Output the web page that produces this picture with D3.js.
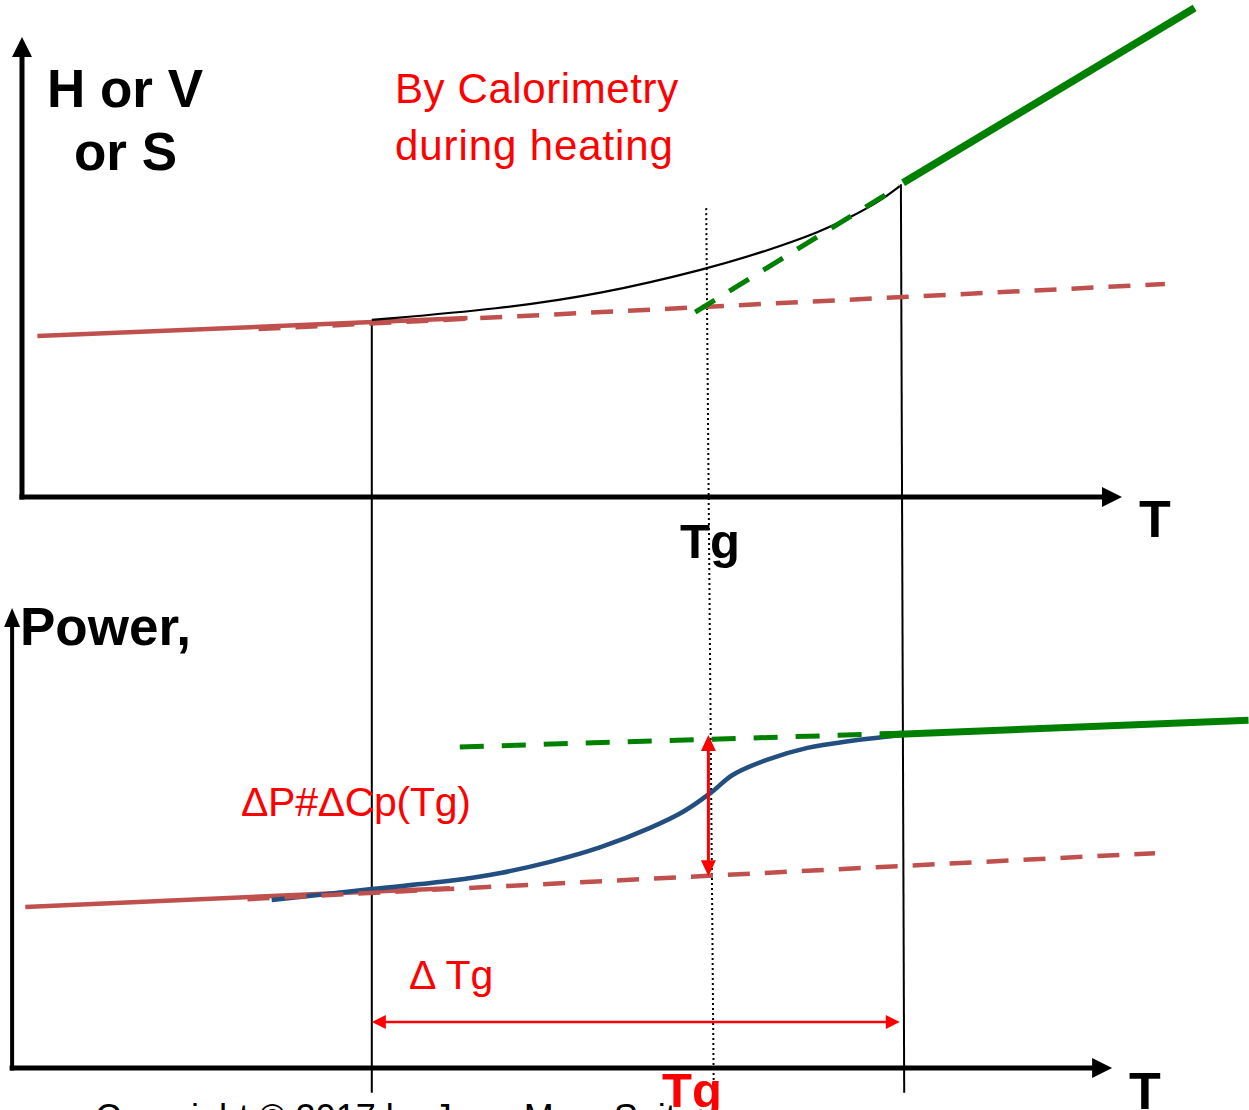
<!DOCTYPE html>
<html>
<head>
<meta charset="utf-8">
<script src="https://cdn.jsdelivr.net/npm/d3@7"></script>
<style>
  html, body { margin: 0; padding: 0; background: #fff; }
  svg { display: block; }
</style>
</head>
<body>
<script>
// Glass transition schematic: H/V/S vs T (top) and DSC power vs T (bottom).
// Temperature runs on an arbitrary 0-100 scale; ordinates on arbitrary 0-100 scales.

// ---- top panel: H or V or S ----
const topGlassSolid   = [[1.4, 35.0], [40.5, 38.9]];
const topGlassDashed  = [[21.5, 36.5], [103.9, 46.3]];
const topCurve        = [[31.8, 38.5], [43.5, 40.9], [52.6, 44.1], [62.3, 49.6], [67.7, 53.5],
                         [72.6, 57.7], [75.3, 60.8], [78.0, 64.3], [79.8, 67.6]];
const topLiquidDashed = [[61.2, 40.2], [79.8, 67.6]];
const topLiquidSolid  = [[80.1, 68.3], [106.6, 106.3]];

// ---- bottom panel: Power ----
const botGlassSolid   = [[0.3, 35.0], [38.9, 39.1]];
const botGlassDashed  = [[20.5, 36.7], [103.0, 46.7]];
const botCurve        = [[22.7, 36.5], [31.8, 38.9], [38.9, 40.7], [43.5, 42.4], [48.0, 44.8],
                         [52.6, 48.0], [57.1, 52.2], [60.1, 55.7], [62.6, 59.8], [64.6, 63.7],
                         [67.7, 67.0], [71.4, 69.6], [75.3, 71.1], [81.0, 72.6]];
const botLiquidDashed = [[39.8, 69.8], [80.7, 72.8]];
const botLiquidSolid  = [[78.0, 72.4], [111.5, 75.6]];

// ΔP at Tg (vertical) and ΔTg (horizontal)
const deltaP  = { T: 62.4, from: 41.7, to: 72.4 };
const deltaTg = { y: 10.0, from: 31.8, to: 79.8 };

// vertical guides: [T at top, top-panel value] -> [T at bottom, bottom-panel value]
const guides = [
  { t0: 31.8, v0: 38.5, t1: 31.8, v1: -5.4, dotted: false },
  { t0: 79.9, v0: 68.0, t1: 80.2, v1: -5.4, dotted: false },
  { t0: 62.2, v0: 62.8, t1: 62.9, v1: -9.2, dotted: true }
];

// axis extents along T
const topAxisT = [0, 100];
const botAxisT = [-0.9, 99.1];

// texts
const topYLabel = ["H or V", "or S"];
const methodLabel = ["By Calorimetry", "during heating"];
const botYLabel = "Power,";
const xLabel = "T";
const tgLabel = "Tg";
const deltaPLabel = "ΔP#ΔCp(Tg)";
const deltaTgLabel = "Δ Tg";
const copyright = "Copyright © 2017 by Jean-Marc Saiter";

const W = 1249, H = 1110;
const svg = d3.select("body").append("svg").attr("width", W).attr("height", H);

const x = d3.scaleLinear().domain([0, 100]).range([22, 1122]);
const yTop = d3.scaleLinear().domain([0, 100]).range([497, 37]);
const yBot = d3.scaleLinear().domain([0, 100]).range([1068, 608]);

const lineTop = d3.line().x(d => x(d[0])).y(d => yTop(d[1]));
const lineBot = d3.line().x(d => x(d[0])).y(d => yBot(d[1]));
const curveTop = d3.line().curve(d3.curveBasis).x(d => x(d[0])).y(d => yTop(d[1]));
const curveBot = d3.line().curve(d3.curveCatmullRom).x(d => x(d[0])).y(d => yBot(d[1]));

const BROWN = "#c0504d", GREEN = "#008000", BLUE = "#234e80", RED = "#ff0000";
const font = "'Liberation Sans', Arial, sans-serif";

// copyright line (partly below the page edge)
svg.append("text").attr("x", 95).attr("y", 1130)
  .attr("font-family", font).attr("font-size", 36).attr("fill", "#000")
  .text(copyright);

// vertical guides
guides.forEach(g => {
  svg.append("line")
    .attr("x1", x(g.t0)).attr("y1", yTop(g.v0))
    .attr("x2", x(g.t1)).attr("y2", yBot(g.v1))
    .attr("stroke", "#000")
    .attr("stroke-width", 2)
    .attr("stroke-dasharray", g.dotted ? "2,3" : null);
});

// axes with arrowheads
function drawAxes(yScale, tRange, yHead) {
  const x0 = x(tRange[0]), x1 = x(tRange[1]);
  const y0 = yScale(0), y1 = yScale(100);
  const g = svg.append("g");
  g.append("line").attr("x1", x0).attr("y1", y0 + 2.5).attr("x2", x0).attr("y2", y1 + yHead.h - 1)
    .attr("stroke", "#000").attr("stroke-width", yHead.lw);
  g.append("path")
    .attr("d", `M${x0},${y1} L${x0 - yHead.w / 2},${y1 + yHead.h} L${x0 + yHead.w / 2},${y1 + yHead.h} Z`)
    .attr("fill", "#000");
  g.append("line").attr("x1", x0 - 2.5).attr("y1", y0).attr("x2", x1 - 19).attr("y2", y0)
    .attr("stroke", "#000").attr("stroke-width", 5);
  g.append("path")
    .attr("d", `M${x1},${y0} L${x1 - 20},${y0 - 10} L${x1 - 20},${y0 + 10} Z`)
    .attr("fill", "#000");
}
drawAxes(yTop, topAxisT, { w: 20, h: 20, lw: 5 });
drawAxes(yBot, botAxisT, { w: 16, h: 19, lw: 4 });

// ---- top panel marks ----
svg.append("path").attr("d", lineTop(topGlassSolid)).attr("fill", "none")
  .attr("stroke", BROWN).attr("stroke-width", 4.5);
svg.append("path").attr("d", lineTop(topGlassDashed)).attr("fill", "none")
  .attr("stroke", BROWN).attr("stroke-width", 4.5).attr("stroke-dasharray", "22,15");
svg.append("path").attr("d", curveTop(topCurve)).attr("fill", "none")
  .attr("stroke", "#000").attr("stroke-width", 2.2);
svg.append("path").attr("d", lineTop(topLiquidDashed)).attr("fill", "none")
  .attr("stroke", GREEN).attr("stroke-width", 5).attr("stroke-dasharray", "23,17");
svg.append("path").attr("d", lineTop(topLiquidSolid)).attr("fill", "none")
  .attr("stroke", GREEN).attr("stroke-width", 7.5);

// ---- bottom panel marks ----
svg.append("path").attr("d", lineBot(botGlassSolid)).attr("fill", "none")
  .attr("stroke", BROWN).attr("stroke-width", 4.5);
svg.append("path").attr("d", curveBot(botCurve)).attr("fill", "none")
  .attr("stroke", BLUE).attr("stroke-width", 4.5);
svg.append("path").attr("d", lineBot(botGlassDashed)).attr("fill", "none")
  .attr("stroke", BROWN).attr("stroke-width", 4.5).attr("stroke-dasharray", "22,15");
svg.append("path").attr("d", lineBot(botLiquidDashed)).attr("fill", "none")
  .attr("stroke", GREEN).attr("stroke-width", 5).attr("stroke-dasharray", "24,18");
svg.append("path").attr("d", lineBot(botLiquidSolid)).attr("fill", "none")
  .attr("stroke", GREEN).attr("stroke-width", 7);

// ΔP double arrow
{
  const px = x(deltaP.T), pa = yBot(deltaP.to), pb = yBot(deltaP.from);
  svg.append("line").attr("x1", px).attr("y1", pa + 12).attr("x2", px).attr("y2", pb - 12)
    .attr("stroke", RED).attr("stroke-width", 3);
  svg.append("path").attr("d", `M${px},${pa} L${px - 7.5},${pa + 16} L${px + 7.5},${pa + 16} Z`).attr("fill", RED);
  svg.append("path").attr("d", `M${px},${pb} L${px - 7.5},${pb - 16} L${px + 7.5},${pb - 16} Z`).attr("fill", RED);
}
// ΔTg double arrow
{
  const hy = yBot(deltaTg.y), ha = x(deltaTg.from), hb = x(deltaTg.to);
  svg.append("line").attr("x1", ha + 10).attr("y1", hy).attr("x2", hb - 10).attr("y2", hy)
    .attr("stroke", RED).attr("stroke-width", 2.5);
  svg.append("path").attr("d", `M${ha},${hy} L${ha + 14},${hy - 7} L${ha + 14},${hy + 7} Z`).attr("fill", RED);
  svg.append("path").attr("d", `M${hb},${hy} L${hb - 14},${hy - 7} L${hb - 14},${hy + 7} Z`).attr("fill", RED);
}

// ---- texts ----
const bold = (t, xx, yy, size, color) =>
  svg.append("text").attr("x", xx).attr("y", yy).attr("font-family", font)
    .attr("font-weight", "bold").attr("font-size", size).attr("fill", color || "#000").text(t);
const plain = (t, xx, yy, size, color, ls) =>
  svg.append("text").attr("x", xx).attr("y", yy).attr("font-family", font)
    .attr("font-size", size).attr("fill", color || "#000")
    .attr("letter-spacing", ls || 0).text(t);

bold(topYLabel[0], 47, 107, 53);
bold(topYLabel[1], 74, 170, 53);
plain(methodLabel[0], 395, 103, 42, RED, 0.6);
plain(methodLabel[1], 395, 160, 42, RED, 0.9);
bold(xLabel, 1139, 537, 52);
bold(tgLabel, 680, 558, 49);

bold(botYLabel, 20, 645, 53);
plain(deltaPLabel, 241, 816, 41, RED, -0.3);
plain(deltaTgLabel, 409, 989, 41, RED);
bold(xLabel, 1129, 1109, 52);
bold(tgLabel, 662, 1107, 49, RED);
</script>
</body>
</html>
